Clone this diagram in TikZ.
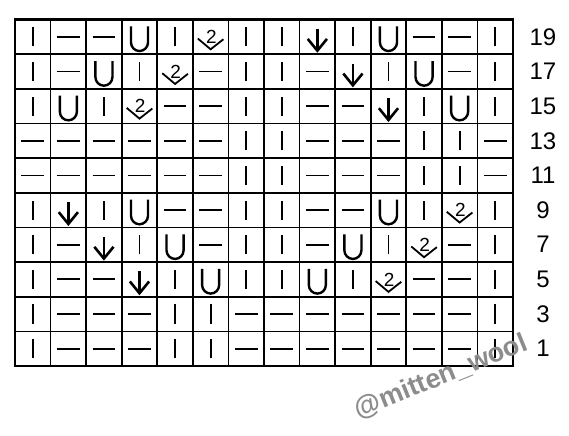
\documentclass[tikz,border=0pt]{standalone}
\usepackage{fontspec}
\setmainfont{Liberation Sans}
\usepackage{tikz}
\definecolor{wmgray}{RGB}{140,140,140}

\tikzset{
    sym/.style={line width=1.8pt},
    gridline/.style={line width=1.7pt},
    kn/.pic={\draw[sym] (0,-0.275) -- (0,0.275);},
    pu/.pic={\draw[sym] (-0.32,0) -- (0.32,0);},
    yo/.pic={\draw[line width=2.4pt] (-0.24,0.30) -- (-0.24,-0.16) arc[start angle=180,end angle=360,x radius=0.24,y radius=0.25] -- (0.24,0.30);},
    dn/.pic={\draw[line width=2.6pt] (0,0.23) -- (0,-0.38);
             \draw[line width=2.6pt, line join=miter] (-0.27,-0.06) -- (0,-0.40) -- (0.27,-0.06);},
    tw/.pic={\draw[line width=1.8pt] (-0.36,-0.05) -- (0,-0.36) -- (0.36,-0.07);
             \node[font=\fontsize{19}{19}\selectfont, inner sep=0pt] at (0.02,0) {2};}
}

\begin{document}
\begin{tikzpicture}[x=35.57pt, y=34.65pt]
    \useasboundingbox (-0.4217,-2.020) rectangle (15.575,10.563);
    % chart rows, top (19) to bottom (1)
    \foreach \row [count=\r] in {
        {kn,pu,pu,yo,kn,tw,kn,kn,dn,kn,yo,pu,pu,kn},
        {kn,pu,yo,kn,tw,pu,kn,kn,pu,dn,kn,yo,pu,kn},
        {kn,yo,kn,tw,pu,pu,kn,kn,pu,pu,dn,kn,yo,kn},
        {pu,pu,pu,pu,pu,pu,kn,kn,pu,pu,pu,kn,kn,pu},
        {pu,pu,pu,pu,pu,pu,kn,kn,pu,pu,pu,kn,kn,pu},
        {kn,dn,kn,yo,pu,pu,kn,kn,pu,pu,yo,kn,tw,kn},
        {kn,pu,dn,kn,yo,pu,kn,kn,pu,yo,kn,tw,pu,kn},
        {kn,pu,pu,dn,kn,yo,kn,kn,yo,kn,tw,pu,pu,kn},
        {kn,pu,pu,pu,kn,kn,pu,pu,pu,pu,pu,pu,pu,kn},
        {kn,pu,pu,pu,kn,kn,pu,pu,pu,pu,pu,pu,pu,kn}}
    {
        \foreach \s [count=\c] in \row
            \pic at (\c-0.5,10.5-\r) {\s};
    }
    \draw [gridline, step=1] (0,0) grid (14,10);
    \draw [line width=2.1pt] (0,0) rectangle (14,10);
    % row numbers
    \foreach \n [count=\r] in {19,17,15,13,11,9,7,5,3,1}
        \node [font=\fontsize{24}{24}\selectfont] (num\n) at (14.844,10.5-\r) {\n};
    % watermark
    \node [font=\bfseries\fontsize{27}{27}\selectfont, text=wmgray, rotate=22] (mark) at (11.98,-0.32) {@mitten\_wool};
\end{tikzpicture}
\end{document}
